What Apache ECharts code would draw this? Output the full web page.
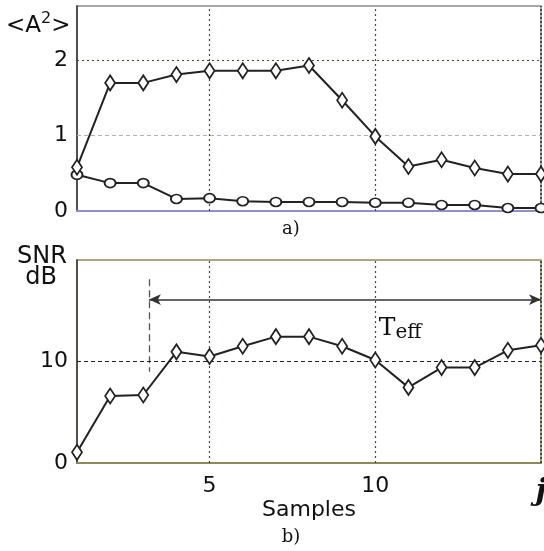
<!DOCTYPE html>
<html>
<head>
<meta charset="utf-8">
<script src="https://cdn.jsdelivr.net/npm/echarts@6/dist/echarts.min.js"></script>
<style>html,body{margin:0;padding:0;background:#fff;}#c{width:544px;height:551px;}</style>
</head>
<body>
<div id="c"></div>
<script>
// ---- data ----
const samples = [1,2,3,4,5,6,7,8,9,10,11,12,13,14,15];
const a2Signal = [0.58,1.70,1.70,1.81,1.86,1.86,1.86,1.93,1.47,0.99,0.59,0.68,0.57,0.49,0.49];
const a2Noise  = [0.48,0.37,0.37,0.16,0.17,0.13,0.12,0.12,0.12,0.11,0.11,0.08,0.08,0.04,0.04];
const snrDb    = [1.05,6.6,6.7,10.95,10.5,11.5,12.45,12.45,11.5,10.15,7.45,9.4,9.4,11.1,11.6];
const topTicks = [0,1,2];
const bottomTicks = [0,10];
const xTicks = [5,10,15];
const teffStart = 3.17, teffEnd = 15, teffLevel = 16.1;
const teffMarkerLow = 9.0, teffMarkerHigh = 18.1;

const pair = (xs, ys) => xs.map((x,i)=>[x, ys[i]]);
const dark = '#222';
const gridDot = {type:[2,3], color:'#4a4a30', width:1.2};

const chart = echarts.init(document.getElementById('c'), null, {renderer:'canvas'});
chart.setOption({
  animation:false,
  backgroundColor:'#fff',
  grid:[
    {left:77, top:6, width:464, height:205, show:true, borderColor:'#8a8a8a', borderWidth:1.5, outerBoundsMode:'none', containLabel:false},
    {left:77, top:260, width:464, height:203, show:true, borderColor:'#8c8a58', borderWidth:1.5, outerBoundsMode:'none', containLabel:false}
  ],
  xAxis:[
    {gridIndex:0, type:'value', min:1, max:15,
     axisLine:{show:true, lineStyle:{color:'#8f8fd0', width:2}}, axisTick:{show:false},
     axisLabel:{show:false}, splitLine:{show:false}},
    {gridIndex:1, type:'value', min:1, max:15,
     axisLine:{show:true, lineStyle:{color:'#8c8a58', width:2}}, axisTick:{show:false},
     axisLabel:{show:true, customValues:xTicks, margin:12, color:'#111',
       fontFamily:'DejaVu Sans', fontSize:22,
       formatter:v => v===15 ? '{j|j}' : String(v),
       rich:{j:{fontFamily:'DejaVu Serif', fontWeight:'bold', fontStyle:'italic', fontSize:30, color:'#111', padding:[2,0,0,0]}}},
     splitLine:{show:false},
     name:'Samples', nameLocation:'middle', nameGap:36, nameMoveOverlap:false,
     nameTextStyle:{fontFamily:'DejaVu Sans', fontSize:22, color:'#111'}}
  ],
  yAxis:[
    {gridIndex:0, type:'value', min:0, max:2.72,
     axisLine:{show:true, lineStyle:{color:'#333', width:1.5}}, axisTick:{show:false},
     axisLabel:{customValues:topTicks, margin:9, color:'#111', fontFamily:'DejaVu Sans', fontSize:22},
     splitLine:{show:false}},
    {gridIndex:1, type:'value', min:0, max:20,
     axisLine:{show:true, lineStyle:{color:'#333', width:1.5}}, axisTick:{show:false},
     axisLabel:{customValues:bottomTicks, margin:9, color:'#111', fontFamily:'DejaVu Sans', fontSize:22},
     splitLine:{show:false}}
  ],
  series:[
    {type:'line', xAxisIndex:0, yAxisIndex:0, data:pair(samples, a2Noise),
     symbol:'circle', symbolSize:[11,9], showAllSymbol:true,
     itemStyle:{color:'#fff', borderColor:dark, borderWidth:1.8},
     lineStyle:{color:dark, width:2}, z:3,
     markLine:{silent:true, symbol:'none', label:{show:false}, z:1,
       data:[
         {yAxis:2, lineStyle:gridDot},
         {yAxis:1, lineStyle:{type:[4,3], color:'#b0b0b0', width:1}},
         {xAxis:5, lineStyle:gridDot},
         {xAxis:10, lineStyle:gridDot},
         {xAxis:15, lineStyle:{type:[2,2], color:'#333', width:1.5}}
       ]}},
    {type:'line', xAxisIndex:0, yAxisIndex:0, data:pair(samples, a2Signal),
     symbol:'diamond', symbolSize:[10,15], showAllSymbol:true,
     itemStyle:{color:'#fff', borderColor:dark, borderWidth:1.8},
     lineStyle:{color:dark, width:2}, z:4},
    {type:'line', xAxisIndex:1, yAxisIndex:1, data:pair(samples, snrDb),
     symbol:'diamond', symbolSize:[10,15], showAllSymbol:true,
     itemStyle:{color:'#fff', borderColor:dark, borderWidth:1.8},
     lineStyle:{color:dark, width:2}, z:4,
     markLine:{silent:true, label:{show:false}, z:1,
       data:[
         [{coord:[teffStart, teffLevel], symbol:'arrow', symbolSize:[8,12]},
          {coord:[teffEnd, teffLevel], symbol:'arrow', symbolSize:[8,12],
           lineStyle:{color:'#333', width:1.5, type:'solid'}}],
         [{coord:[teffStart, teffMarkerHigh], symbol:'none'},
          {coord:[teffStart, teffMarkerLow], symbol:'none',
           lineStyle:{color:'#555', width:1.3, type:[7,4]}}],
         [{coord:[1, 10], symbol:'none'},{coord:[15, 10], symbol:'none', lineStyle:{type:[4,3], color:'#222', width:1.2}}],
         [{coord:[5, 0], symbol:'none'},{coord:[5, 20], symbol:'none', lineStyle:gridDot}],
         [{coord:[10, 0], symbol:'none'},{coord:[10, 20], symbol:'none', lineStyle:gridDot}],
         [{coord:[15, 0], symbol:'none'},{coord:[15, 20], symbol:'none', lineStyle:{type:[2,2], color:'#333', width:1.5}}]
       ]},
     markPoint:{silent:true, symbol:'circle', symbolSize:1, itemStyle:{color:'rgba(0,0,0,0)'},
       data:[{coord:[10.75, 13.3], label:{show:true, position:'inside', formatter:'{T|T}{e|eff}',
         rich:{T:{fontFamily:'DejaVu Serif', fontSize:25, color:'#111'},
               e:{fontFamily:'DejaVu Serif', fontSize:20, color:'#111', padding:[10,0,0,0]}}}}]}}
  ],
  graphic:[
    {type:'text', left:6, top:11, style:{text:'<A{s|2}>', rich:{s:{fontSize:16, fontFamily:'DejaVu Sans', padding:[0,0,14,0]}},
      fontFamily:'DejaVu Sans', fontSize:23, fill:'#111'}},
    {type:'text', x:291, y:229, style:{text:'a)', fontFamily:'DejaVu Serif', fontSize:18, fill:'#111', align:'center', verticalAlign:'middle'}},
    {type:'text', x:42, y:257, style:{text:'SNR', fontFamily:'DejaVu Sans', fontSize:24, fill:'#111', align:'center', verticalAlign:'middle'}},
    {type:'text', x:41, y:278, style:{text:'dB', fontFamily:'DejaVu Sans', fontSize:24, fill:'#111', align:'center', verticalAlign:'middle'}},
    {type:'text', x:291, y:537, style:{text:'b)', fontFamily:'DejaVu Serif', fontSize:18, fill:'#111', align:'center', verticalAlign:'middle'}}
  ]
});
</script>
</body>
</html>
